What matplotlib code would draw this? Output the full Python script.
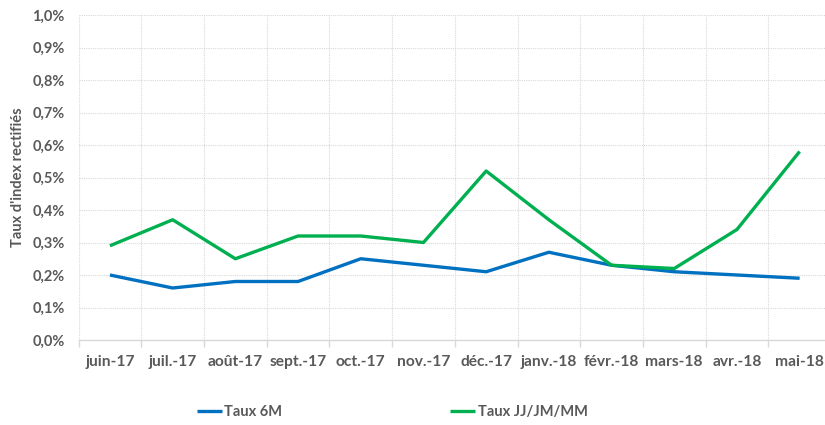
import matplotlib
matplotlib.use("Agg")
import matplotlib.pyplot as plt
from matplotlib.ticker import FuncFormatter, MultipleLocator, FixedLocator
import numpy as np

categories = ["juin-17", "juil.-17", "août-17", "sept.-17", "oct.-17", "nov.-17",
              "déc.-17", "janv.-18", "févr.-18", "mars-18", "avr.-18", "mai-18"]
taux_6m = [0.20, 0.16, 0.18, 0.18, 0.25, 0.23, 0.21, 0.27, 0.23, 0.21, 0.20, 0.19]
taux_jj = [0.29, 0.37, 0.25, 0.32, 0.32, 0.30, 0.52, 0.37, 0.23, 0.22, 0.34, 0.58]
series_names = ["Taux 6M", "Taux JJ/JM/MM"]
y_label = "Taux d'index rectifiés"

plt.rcParams['font.family'] = ['Lato', 'DejaVu Sans']
txt_color = "#595959"

fig = plt.figure(figsize=(8.25, 4.25), dpi=100)
W, H = 825, 425
left, right, top, bottom = 78.6, 831, 15, 340
ax = fig.add_axes([left / W, 1 - bottom / H, (right - left) / W, (bottom - top) / H])

x = np.arange(len(categories))
ax.plot(x, taux_6m, color="#0070C0", lw=2.4, label=series_names[0], solid_capstyle="butt", zorder=3)
ax.plot(x, taux_jj, color="#00B050", lw=2.4, label=series_names[1], solid_capstyle="butt", zorder=3)

ax.set_xlim(-0.5, len(categories) - 0.5)
ax.set_ylim(0, 1.0)
ax.yaxis.set_major_locator(MultipleLocator(0.1))
ax.yaxis.set_major_formatter(FuncFormatter(lambda v, p: f"{v:.1f}%".replace(".", ",")))

ax.set_xticks(x)
ax.set_xticklabels(categories)
ax.xaxis.set_minor_locator(FixedLocator(np.arange(-0.5, len(categories), 1.0)))

ax.grid(axis="y", which="major", color="#D9D9D9", linestyle=(0, (1, 1)), lw=0.8)
ax.grid(axis="x", which="minor", color="#D9D9D9", linestyle=(0, (1, 1)), lw=0.8)
ax.set_axisbelow(True)

for s in ["top", "right", "left"]:
    ax.spines[s].set_visible(False)
ax.spines["bottom"].set_color("#D9D9D9")
ax.spines["bottom"].set_linewidth(1.0)

ax.tick_params(axis="x", which="major", length=0, pad=11, labelsize=11.2, labelcolor=txt_color)
ax.tick_params(axis="x", which="minor", length=5, color="#D9D9D9", width=1.0)
ax.tick_params(axis="y", length=0, pad=10, labelsize=10.5, labelcolor=txt_color)
for lab in ax.get_xticklabels() + ax.get_yticklabels():
    lab.set_fontweight("bold")

ax.set_ylabel(y_label, fontsize=10.5, fontweight="bold", color=txt_color, labelpad=5)

leg = fig.legend(loc="center", bbox_to_anchor=(392 / W, 1 - 412 / H), ncol=2,
                 frameon=False, handlelength=1.75, handletextpad=0.15, columnspacing=11.5,
                 prop={"size": 10.5, "weight": "bold"})
for t in leg.get_texts():
    t.set_color(txt_color)

fig.savefig("out.png", dpi=100)
